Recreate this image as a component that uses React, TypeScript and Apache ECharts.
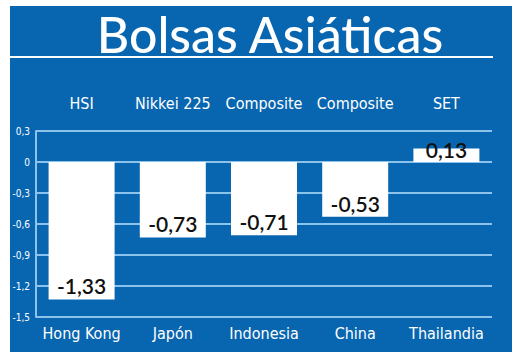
import React, { useEffect, useRef } from "react";
import * as echarts from "echarts";

const countries = ["Hong Kong", "Japón", "Indonesia", "China", "Thailandia"];
const indices = ["HSI", "Nikkei 225", "Composite", "Composite", "SET"];
const changes = [-1.33, -0.73, -0.71, -0.53, 0.13];
const title = "Bolsas Asiáticas";

const BLUE = "#0865b0";
const GRID = "#8cc3ec";
const CAT_FONT = "'Liberation Sans Narrow', 'DejaVu Sans Condensed', 'Open Sans', sans-serif";

export default function App() {
  const ref = useRef<HTMLDivElement>(null);
  useEffect(() => {
    if (!ref.current) return;
    const chart = echarts.init(ref.current, null, { renderer: "svg" });
    const fmt = (v: number) =>
      Math.abs(v) < 1e-9 ? "0" : v.toFixed(1).replace(".", ",");
    chart.setOption({
      animation: false,
      backgroundColor: "#ffffff",
      graphic: [
        {
          type: "rect",
          z: -10,
          shape: { x: 10, y: 6, width: 502, height: 346 },
          style: { fill: BLUE },
        },
        {
          type: "line",
          z: 10,
          shape: { x1: 10, y1: 57, x2: 493, y2: 57 },
          style: { stroke: "#ffffff", lineWidth: 2 },
        },
        {
          type: "text",
          z: 10,
          x: 270,
          y: 34,
          style: {
            text: title,
            fill: "#ffffff",
            font: "500 50px Lato, 'Open Sans', sans-serif",
            align: "center",
            verticalAlign: "middle",
          },
        },
      ],
      grid: { left: 36, right: 28, top: 131, bottom: 39 },
      xAxis: [
        {
          type: "category",
          data: countries,
          position: "bottom",
          axisLine: { show: false },
          axisTick: { show: false },
          axisLabel: {
            interval: 0,
            color: "#ffffff",
            fontSize: 16,
            fontFamily: CAT_FONT,
            margin: 8,
          },
        },
        {
          type: "category",
          data: indices,
          position: "top",
          axisLine: { show: false },
          axisTick: { show: false },
          axisLabel: {
            interval: 0,
            color: "#ffffff",
            fontSize: 16,
            fontFamily: CAT_FONT,
            margin: 20,
          },
        },
      ],
      yAxis: {
        type: "value",
        min: -1.5,
        max: 0.3,
        interval: 0.3,
        axisLine: { show: true, lineStyle: { color: GRID, width: 2 } },
        axisTick: { show: false },
        axisLabel: {
          color: "#ffffff",
          fontSize: 10,
          fontFamily: CAT_FONT,
          margin: 6,
          formatter: fmt,
        },
        splitLine: { show: true, lineStyle: { color: GRID, width: 2 } },
      },
      series: [
        {
          type: "bar",
          xAxisIndex: 0,
          data: changes.map((v) => ({
            value: v,
            label:
              v >= 0
                ? { position: "top", distance: -11 }
                : { position: "insideBottom", distance: 3 },
          })),
          barWidth: 66,
          itemStyle: { color: "#ffffff" },
          label: {
            show: true,
            color: "#111111",
            fontSize: 21,
            fontWeight: 600,
            fontFamily: "Lato, 'Open Sans', sans-serif",
            formatter: (p: any) => String(p.value).replace(".", ","),
          },
        },
      ],
    });
    return () => chart.dispose();
  }, []);
  return (
    <div
      ref={ref}
      style={{ position: "fixed", left: 0, top: 0, width: 520, height: 356 }}
    />
  );
}
